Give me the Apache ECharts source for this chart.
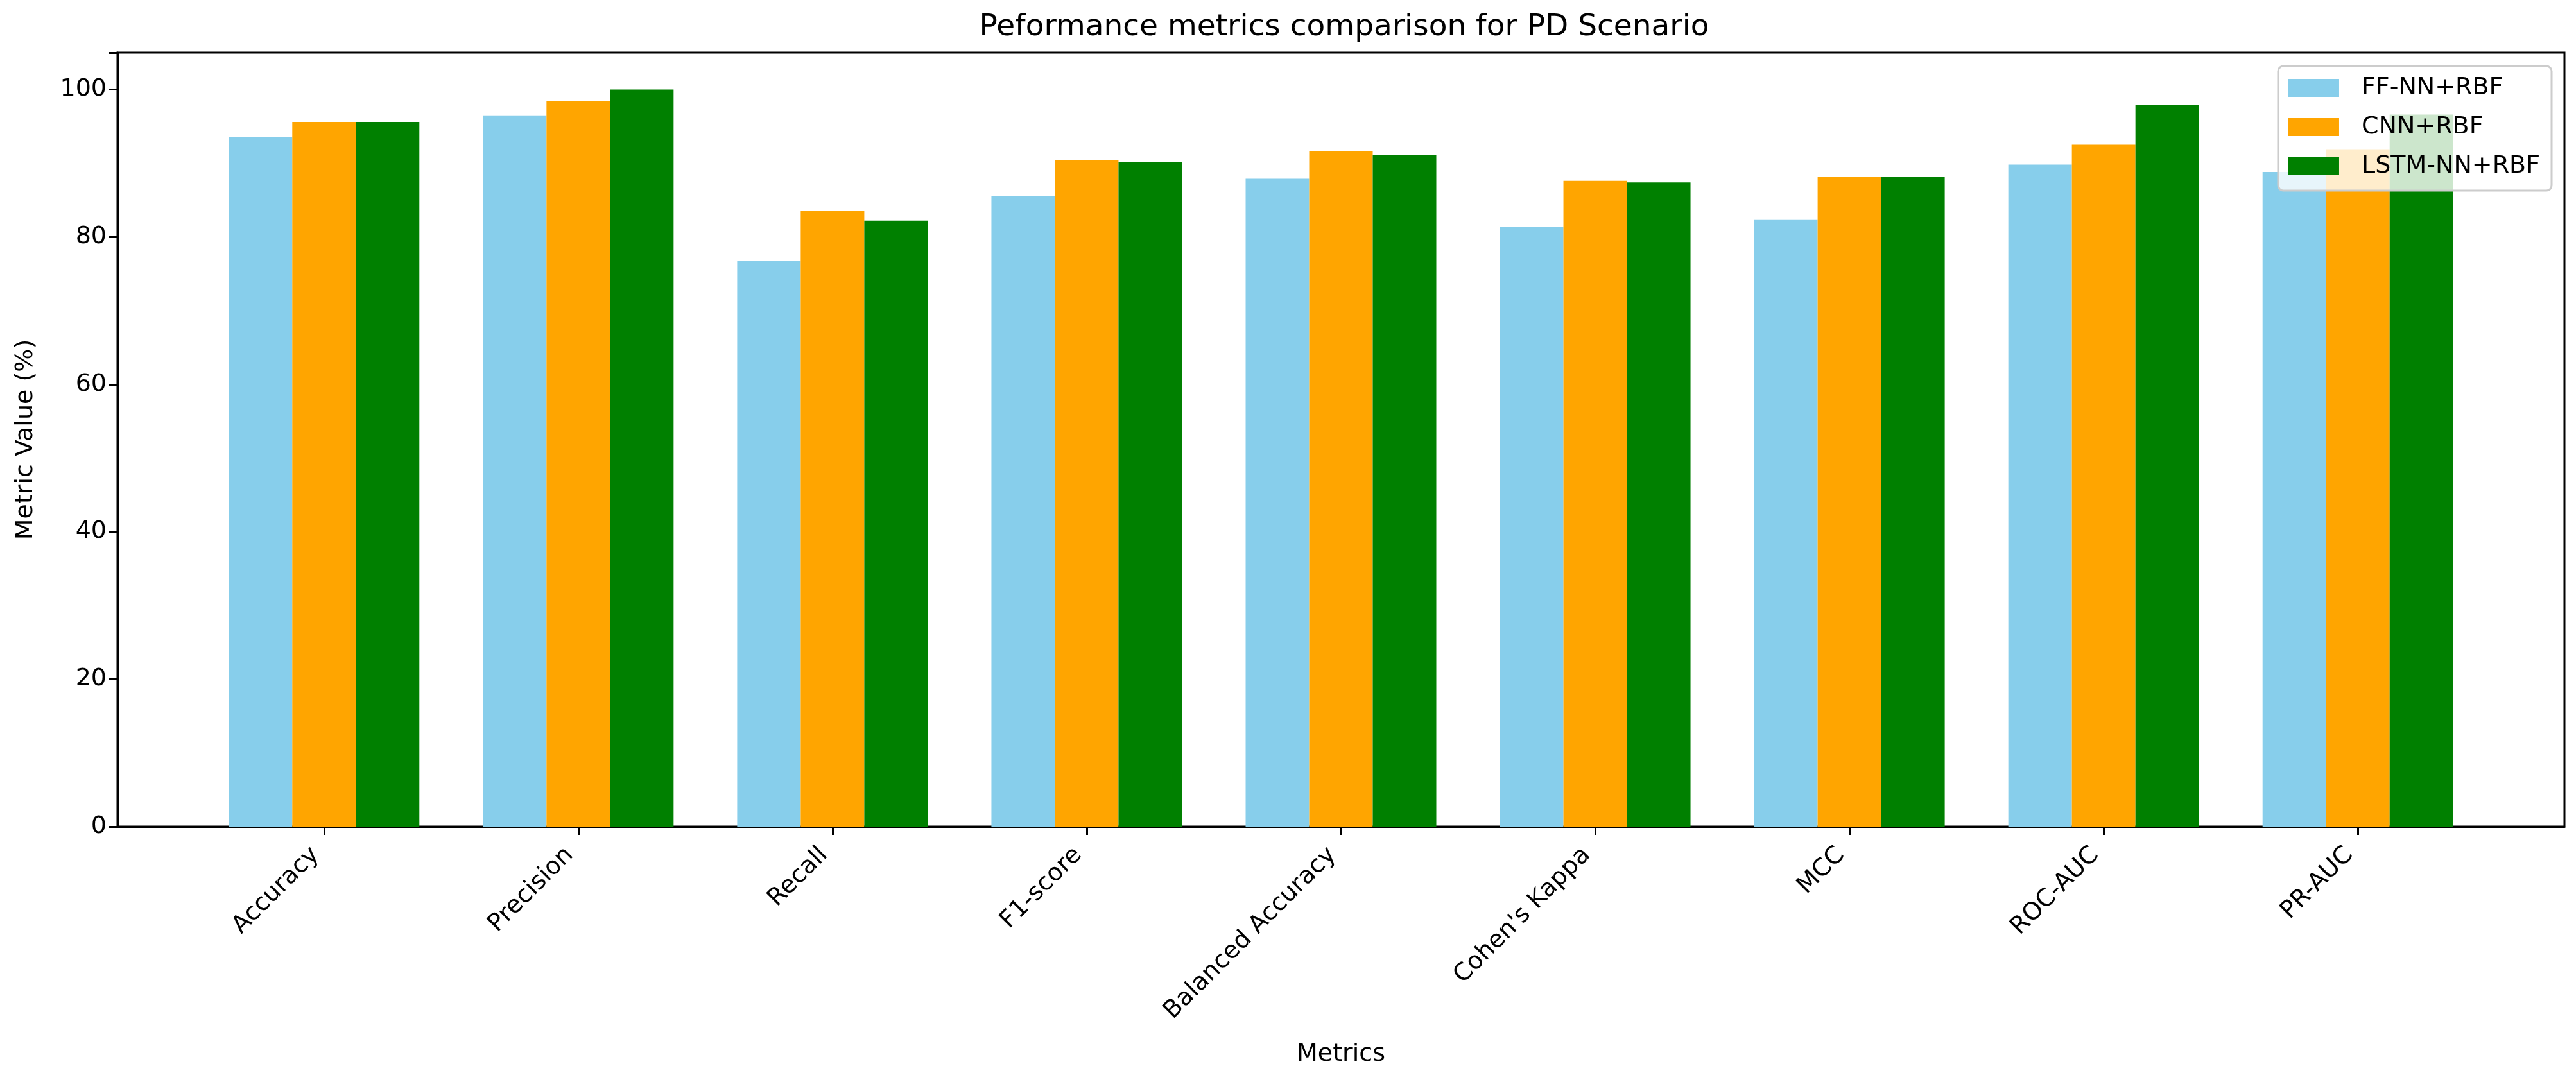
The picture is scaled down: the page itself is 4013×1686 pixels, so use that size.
<!DOCTYPE html>
<html>
<head>
<meta charset="utf-8">
<script src="https://cdn.jsdelivr.net/npm/echarts@6/dist/echarts.min.js"></script>
<style>
html,body{margin:0;padding:0;background:#fff;}
#chart{width:4013px;height:1686px;}
</style>
</head>
<body>
<div id="chart"></div>
<script>
const categories = ['Accuracy','Precision','Recall','F1-score','Balanced Accuracy',"Cohen's Kappa",'MCC','ROC-AUC','PR-AUC'];
const seriesNames = ['FF-NN+RBF','CNN+RBF','LSTM-NN+RBF'];
const ffnn = [93.5, 96.5, 76.7, 85.5, 87.9, 81.4, 82.3, 89.8, 88.8];
const cnn  = [95.6, 98.4, 83.5, 90.4, 91.6, 87.6, 88.1, 92.5, 91.9];
const lstm = [95.6, 100.0, 82.2, 90.2, 91.1, 87.4, 88.1, 97.9, 96.6];
const yTicks = [0, 20, 40, 60, 80, 100];
const colors = ['#87CEEB', '#FFA500', '#008000'];

const catIdx = categories.map((c, i) => i);
const font = 'DejaVu Sans';
const chart = echarts.init(document.getElementById('chart'), null, {renderer: 'canvas'});

function mk(name, vals, color) {
  return {
    name: name,
    type: 'bar',
    data: vals.map((v, i) => [catIdx[i], v]),
    barWidth: 99,
    barGap: '0%',
    itemStyle: {color: color},
    emphasis: {disabled: true}
  };
}

chart.setOption({
  animation: false,
  backgroundColor: '#ffffff',
  textStyle: {fontFamily: font},
  title: {
    text: 'Peformance metrics comparison for PD Scenario',
    left: 2089, top: 14, textAlign: 'center',
    textStyle: {fontFamily: font, fontSize: 47, fontWeight: 'normal', color: '#000'}
  },
  legend: {
    orient: 'vertical',
    right: 38, top: 103,
    data: seriesNames,
    itemWidth: 79, itemHeight: 28, itemGap: 21,
    padding: [14, 18, 18, 16],
    backgroundColor: 'rgba(255,255,255,0.8)',
    borderColor: '#cccccc', borderWidth: 3, borderRadius: 8,
    icon: 'rect',
    textStyle: {fontFamily: font, fontSize: 38, color: '#000', lineHeight: 40, padding: [0, 0, 0, 30]}
  },
  grid: {
    left: 183, right: 18, top: 82, bottom: 398,
    show: true, borderColor: '#000', borderWidth: 3, backgroundColor: 'transparent'
  },
  xAxis: {
    type: 'value',
    min: -0.8125, max: 8.8125,
    name: 'Metrics', nameLocation: 'middle', nameGap: 336,
    nameTextStyle: {fontFamily: font, fontSize: 38, color: '#000'},
    splitLine: {show: false},
    axisLine: {show: true, onZero: false, lineStyle: {color: '#000', width: 3}},
    axisTick: {show: true, customValues: catIdx, length: 13, lineStyle: {color: '#000', width: 3}},
    axisLabel: {
      show: true, customValues: catIdx, rotate: 45, margin: 52,
      verticalAlign: 'bottom',
      fontFamily: font, fontSize: 38, color: '#000',
      formatter: function (v) { return categories[Math.round(v)]; }
    }
  },
  yAxis: {
    type: 'value',
    min: 0, max: 105, interval: 20,
    name: 'Metric Value (%)', nameLocation: 'middle', nameGap: 124,
    nameTextStyle: {fontFamily: font, fontSize: 38, color: '#000'},
    splitLine: {show: false},
    axisLine: {show: true, onZero: false, lineStyle: {color: '#000', width: 3}},
    axisTick: {show: true, length: 13, lineStyle: {color: '#000', width: 3}},
    axisLabel: {
      fontFamily: font, fontSize: 38, color: '#000', margin: 17,
      formatter: function (v) { return yTicks.indexOf(v) >= 0 ? String(v) : ''; }
    }
  },
  series: [
    mk(seriesNames[0], ffnn, colors[0]),
    mk(seriesNames[1], cnn, colors[1]),
    mk(seriesNames[2], lstm, colors[2])
  ]
});
</script>
</body>
</html>
